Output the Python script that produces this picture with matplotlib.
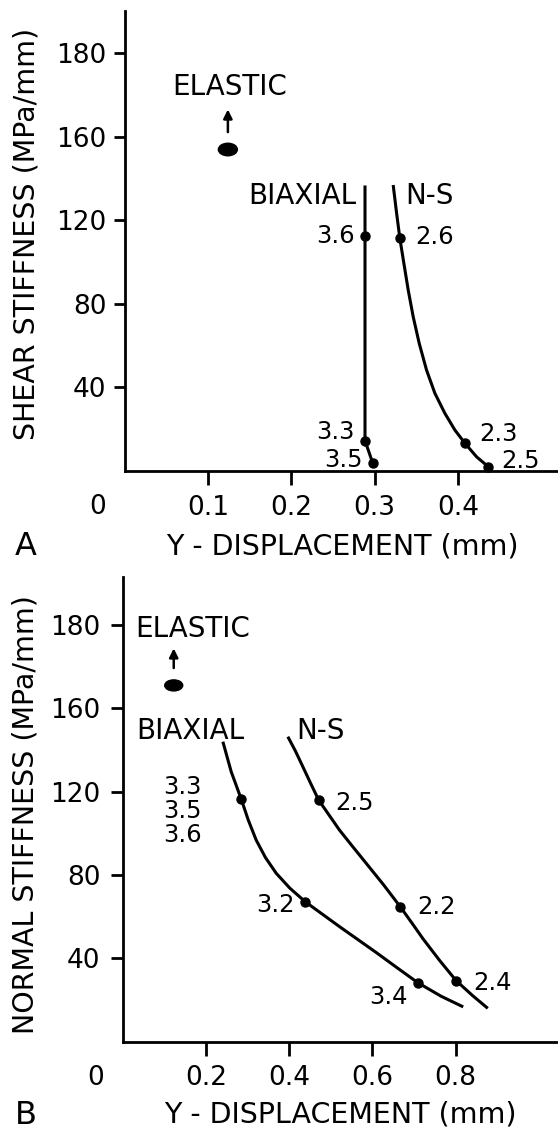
import matplotlib
matplotlib.use('Agg')
import matplotlib.pyplot as plt
from matplotlib.patches import Ellipse

plt.rcParams['font.family'] = ['DejaVu Sans']

# ---- panel A: shear stiffness ----
a_biax_x = [0.2885, 0.2885, 0.2885, 0.2885, 0.2976]
a_biax_y = [136.6, 112.2, 60.0, 14.5, 4.0]
a_biax_pts_x = [0.2885, 0.2885, 0.2976]
a_biax_pts_y = [112.2, 14.5, 4.0]
a_biax_lbl = ['3.6', '3.3', '3.5']

a_ns_x = [0.3223, 0.3264, 0.3303, 0.3351, 0.3403, 0.3463, 0.3535, 0.3623,
          0.3723, 0.3843, 0.3963, 0.4083, 0.4223, 0.4362]
a_ns_y = [136.8, 123.3, 111.3, 99.4, 86.6, 73.8, 61.1, 48.3,
          37.2, 27.6, 19.6, 13.3, 6.8, 2.1]
a_ns_pts_x = [0.3303, 0.4083, 0.4362]
a_ns_pts_y = [111.3, 13.3, 2.1]
a_ns_lbl = ['2.6', '2.3', '2.5']

a_elastic = (0.124, 153.8)

# ---- panel B: normal stiffness ----
b_biax_x = [0.241, 0.261, 0.285, 0.302, 0.321, 0.343, 0.369, 0.402, 0.439,
            0.481, 0.521, 0.565, 0.609, 0.657, 0.709, 0.765, 0.818]
b_biax_y = [143.9, 129.5, 116.4, 106.3, 96.7, 88.4, 80.8, 73.6, 67.1,
            61.0, 55.2, 49.0, 42.8, 35.8, 28.3, 21.8, 16.7]
b_biax_pts_x = [0.285, 0.439, 0.709]
b_biax_pts_y = [116.4, 67.1, 28.3]
b_biax_lbl = ['3.3\n3.5\n3.6', '3.2', '3.4']

b_ns_x = [0.397, 0.415, 0.433, 0.452, 0.471, 0.521, 0.553, 0.585, 0.627,
          0.667, 0.695, 0.721, 0.762, 0.801, 0.840, 0.877]
b_ns_y = [146.3, 139.5, 131.9, 123.8, 115.9, 101.5, 93.5, 85.6, 75.2,
          64.7, 56.9, 49.5, 38.8, 29.3, 22.2, 16.0]
b_ns_pts_x = [0.471, 0.667, 0.801]
b_ns_pts_y = [115.9, 64.7, 29.3]
b_ns_lbl = ['2.5', '2.2', '2.4']

b_elastic = (0.123, 170.9)

y_ticks = [40, 80, 120, 160, 200]
y_tick_labels = ['40', '80', '120', '160', '180']
a_x_ticks = [0.1, 0.2, 0.3, 0.4]
b_x_ticks = [0.2, 0.4, 0.6, 0.8]

W, H = 558, 1131
fig = plt.figure(figsize=(W / 100, H / 100), dpi=100)

TICK_FS = 19
NOTE_FS = 20
NUM_FS = 17.5
LABEL_FS = 20.5


def px_axes(left, top, right, bottom):
    return fig.add_axes([left / W, 1 - bottom / H, (right - left) / W, (bottom - top) / H])


def style(ax, xlim, ylim, xticks, ylen, ypad):
    ax.set_xlim(*xlim)
    ax.set_ylim(*ylim)
    for s in ['top', 'right']:
        ax.spines[s].set_visible(False)
    for s in ['left', 'bottom']:
        ax.spines[s].set_linewidth(2.0)
    ax.set_xticks(xticks)
    ax.set_xticklabels([('%.1f' % t) for t in xticks])
    ax.set_yticks(y_ticks)
    ax.set_yticklabels(y_tick_labels)
    ax.tick_params(axis='x', direction='out', length=10, width=2.0, pad=7, labelsize=TICK_FS)
    ax.tick_params(axis='y', direction='out', length=ylen, width=2.0, pad=ypad, labelsize=TICK_FS)
    ax.annotate('0', xy=(0, 0), xytext=(-27, -36), textcoords='offset pixels',
                ha='center', va='center', fontsize=TICK_FS, annotation_clip=False)


def elastic(ax, pt, w, h, head):
    ax.add_patch(Ellipse(pt, w, h, color='black'))
    ax.annotate('', xy=(pt[0], head), xytext=(pt[0], pt[1] + 7),
                arrowprops=dict(arrowstyle='-|>', color='black', lw=1.8, mutation_scale=13))


lw = 2.2
ms = 6.5

# panel A
axA = px_axes(124.5, 10.5, 558, 471)
style(axA, (0, 0.52), (0, 220.3), a_x_ticks, 8, 5)
axA.plot(a_biax_x, a_biax_y, color='black', lw=lw, solid_capstyle='butt')
axA.plot(a_ns_x, a_ns_y, color='black', lw=lw, solid_capstyle='butt')
axA.plot(a_biax_pts_x, a_biax_pts_y, 'o', color='black', ms=ms, clip_on=False)
axA.plot(a_ns_pts_x, a_ns_pts_y, 'o', color='black', ms=ms, clip_on=False)
elastic(axA, a_elastic, 0.0228, 6.0, 174.3)
axA.text(0.126, 183.7, 'ELASTIC', ha='center', va='center', fontsize=NOTE_FS)
axA.text(0.2776, 131.7, 'BIAXIAL', ha='right', va='center', fontsize=NOTE_FS)
axA.text(0.337, 131.7, 'N-S', ha='left', va='center', fontsize=NOTE_FS)
for (x, y, t, dy) in zip(a_biax_pts_x, a_biax_pts_y, a_biax_lbl, [0, 4, 1.5]):
    axA.text(x - 0.012, y + dy, t, ha='right', va='center', fontsize=NUM_FS)
for (x, y, t, dx, dy) in zip(a_ns_pts_x, a_ns_pts_y, a_ns_lbl, [0.018, 0.017, 0.016], [0.7, 4.3, 2.7]):
    axA.text(x + dx, y + dy, t, ha='left', va='center', fontsize=NUM_FS)

fig.text(26.7 / W, 1 - 234 / H, 'SHEAR STIFFNESS (MPa/mm)', rotation=90,
         ha='center', va='center', fontsize=LABEL_FS)
fig.text(342.5 / W, 1 - 546.7 / H, 'Y - DISPLACEMENT (mm)', ha='center', va='center', fontsize=LABEL_FS)
fig.text(26 / W, 1 - 546 / H, 'A', ha='center', va='center', fontsize=23)

# panel B
axB = px_axes(122.5, 577, 558, 1041.7)
style(axB, (0, 1.0456), (0, 222.9), b_x_ticks, 9, 7)
axB.plot(b_biax_x, b_biax_y, color='black', lw=lw, solid_capstyle='butt')
axB.plot(b_ns_x, b_ns_y, color='black', lw=lw, solid_capstyle='butt')
axB.plot(b_biax_pts_x, b_biax_pts_y, 'o', color='black', ms=ms)
axB.plot(b_ns_pts_x, b_ns_pts_y, 'o', color='black', ms=ms)
elastic(axB, b_elastic, 0.0432, 5.3, 190)
axB.text(0.0295, 198, 'ELASTIC', ha='left', va='center', fontsize=NOTE_FS)
axB.text(0.292, 149, 'BIAXIAL', ha='right', va='center', fontsize=NOTE_FS)
axB.text(0.417, 149, 'N-S', ha='left', va='center', fontsize=NOTE_FS)
axB.text(0.144, 110.5, b_biax_lbl[0], ha='center', va='center', fontsize=NUM_FS, linespacing=1.0)
axB.text(0.413, 65.6, b_biax_lbl[1], ha='right', va='center', fontsize=NUM_FS)
axB.text(0.685, 21.6, b_biax_lbl[2], ha='right', va='center', fontsize=NUM_FS)
for (x, y, t, dy) in zip(b_ns_pts_x, b_ns_pts_y, b_ns_lbl, [-1.5, 0, -1.3]):
    axB.text(x + 0.04, y + dy, t, ha='left', va='center', fontsize=NUM_FS)

fig.text(26 / W, 1 - 815 / H, 'NORMAL STIFFNESS (MPa/mm)', rotation=90,
         ha='center', va='center', fontsize=LABEL_FS)
fig.text(340 / W, 1 - 1115 / H, 'Y - DISPLACEMENT (mm)', ha='center', va='center', fontsize=LABEL_FS)
fig.text(26 / W, 1 - 1115 / H, 'B', ha='center', va='center', fontsize=23)

fig.savefig('out.png', dpi=100)
